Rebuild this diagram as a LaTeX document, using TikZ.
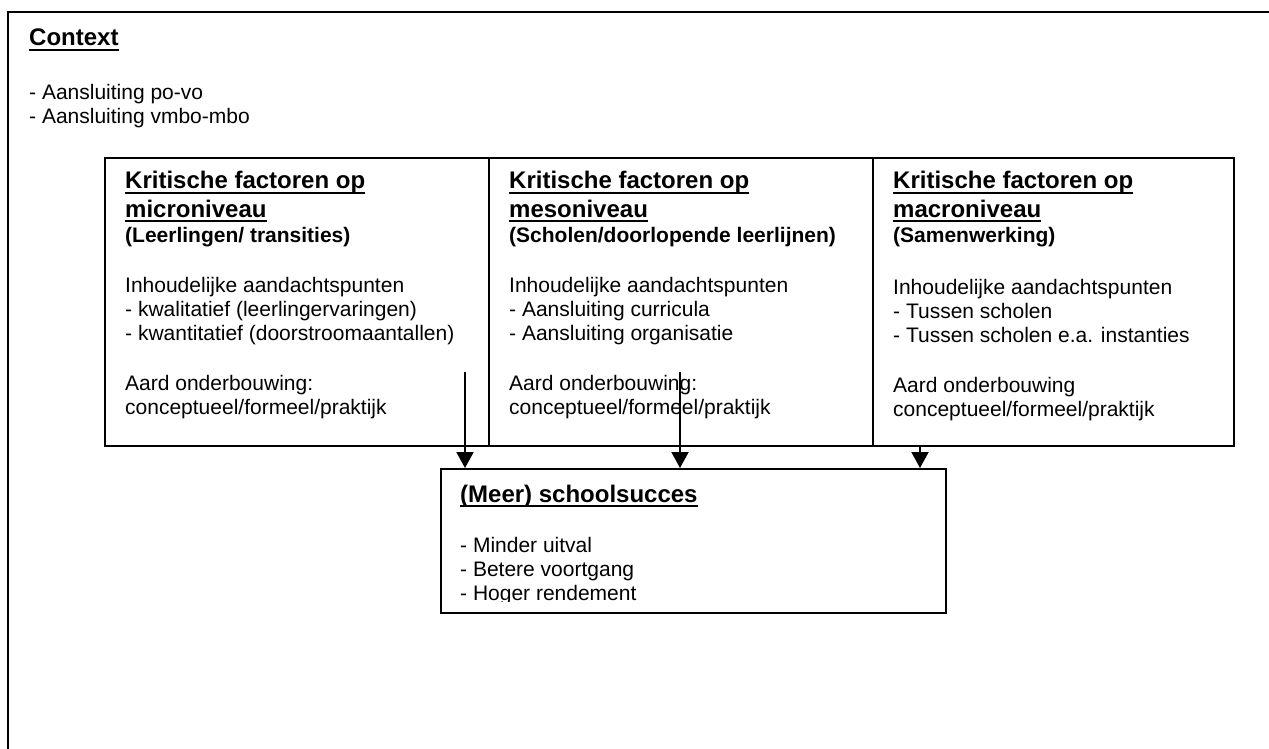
\documentclass[tikz,border=0pt]{standalone}
\usepackage{fontspec}
\setmainfont{Liberation Sans}
\usetikzlibrary{arrows.meta,calc}
\tikzset{
  txt/.style={font=\fontsize{21}{24}\selectfont, anchor=base west, inner sep=0pt},
  hd/.style={font=\bfseries\fontsize{24}{28}\selectfont, anchor=base west, inner sep=0pt},
  sub/.style={font=\bfseries\fontsize{21}{24}\selectfont, anchor=base west, inner sep=0pt},
  boxframe/.style={draw, line width=2pt, anchor=north west, inner sep=0pt},
  uline/.style={line width=2pt},
  arr/.style={line width=2pt, -{Triangle[length=16pt,width=17pt]}},
}
\newcommand{\ul}[1]{\draw[uline] ([yshift=-4pt]#1.base west) -- ([yshift=-4pt]#1.base east);}
\begin{document}
\begin{tikzpicture}[x=1pt,y=-1pt]
\useasboundingbox (0,0) rectangle (1269,749);
% outer context frame (only top and left edges visible)
\draw[line width=2.2pt] (8,752) -- (8,12) -- (1272,12);
\node[hd] (ctx) at (29,46) {Context};
\ul{ctx}
\node[txt] (c1) at (29,100) {- Aansluiting po-vo};
\node[txt] (c2) at (29,124) {- Aansluiting vmbo-mbo};

% three factor boxes
\node[boxframe, minimum width=384pt, minimum height=288pt] (b1) at (104,157) {};
\node[boxframe, minimum width=384pt, minimum height=288pt] (b2) at (488,157) {};
\node[boxframe, minimum width=361pt, minimum height=288pt] (b3) at (872,157) {};

% box 1
\node[hd] (h1a) at (125,189) {Kritische factoren op}; \ul{h1a}
\node[hd] (h1b) at (125,217) {microniveau}; \ul{h1b}
\node[sub] (s1) at (125,242) {(Leerlingen/ transities)};
\node[txt] (t1a) at (125,292) {Inhoudelijke aandachtspunten};
\node[txt] (t1b) at (125,316) {- kwalitatief (leerlingervaringen)};
\node[txt] (t1c) at (125,340) {- kwantitatief (doorstroomaantallen)};
\node[txt] (t1d) at (125,390) {Aard onderbouwing:};
\node[txt] (t1e) at (125,414) {conceptueel/formeel/praktijk};

% box 2
\node[hd] (h2a) at (509,189) {Kritische factoren op}; \ul{h2a}
\node[hd] (h2b) at (509,217) {mesoniveau}; \ul{h2b}
\node[sub] (s2) at (509,242) {(Scholen/doorlopende leerlijnen)};
\node[txt] (t2a) at (509,292) {Inhoudelijke aandachtspunten};
\node[txt] (t2b) at (509,316) {- Aansluiting curricula};
\node[txt] (t2c) at (509,340) {- Aansluiting organisatie};
\node[txt] (t2d) at (509,390) {Aard onderbouwing:};
\node[txt] (t2e) at (509,414) {conceptueel/formeel/praktijk};

% box 3
\node[hd] (h3a) at (893,189) {Kritische factoren op}; \ul{h3a}
\node[hd] (h3b) at (893,217) {macroniveau}; \ul{h3b}
\node[sub] (s3) at (893,242) {(Samenwerking)};
\node[txt] (t3a) at (893,294) {Inhoudelijke aandachtspunten};
\node[txt] (t3b) at (893,318) {- Tussen scholen};
\node[txt] (t3c) at (893,342) {- Tussen scholen e.a. instanties};
\node[txt] (t3d) at (893,392) {Aard onderbouwing};
\node[txt] (t3e) at (893,416) {conceptueel/formeel/praktijk};

% result box
\node[boxframe, minimum width=505pt, minimum height=144pt] (res) at (440,468) {};
\node[hd] (rh) at (460,502) {(Meer) schoolsucces}; \ul{rh}
\node[txt] (r1) at (460,552) {- Minder uitval};
\node[txt] (r2) at (460,576) {- Betere voortgang};
\begin{scope}
  \clip (445,560) rectangle (940,601.5);
  \node[txt] (r3) at (460,600) {- Hoger rendement};
\end{scope}

% arrows
\coordinate (a1) at (465,372);
\coordinate (a2) at (680,372);
\coordinate (a3) at (920,444);
\draw[arr] (a1) -- (a1 |- res.north);
\draw[arr] (a2) -- (a2 |- res.north);
\draw[arr] (a3 |- b3.south) -- (a3 |- res.north);
\end{tikzpicture}
\end{document}
